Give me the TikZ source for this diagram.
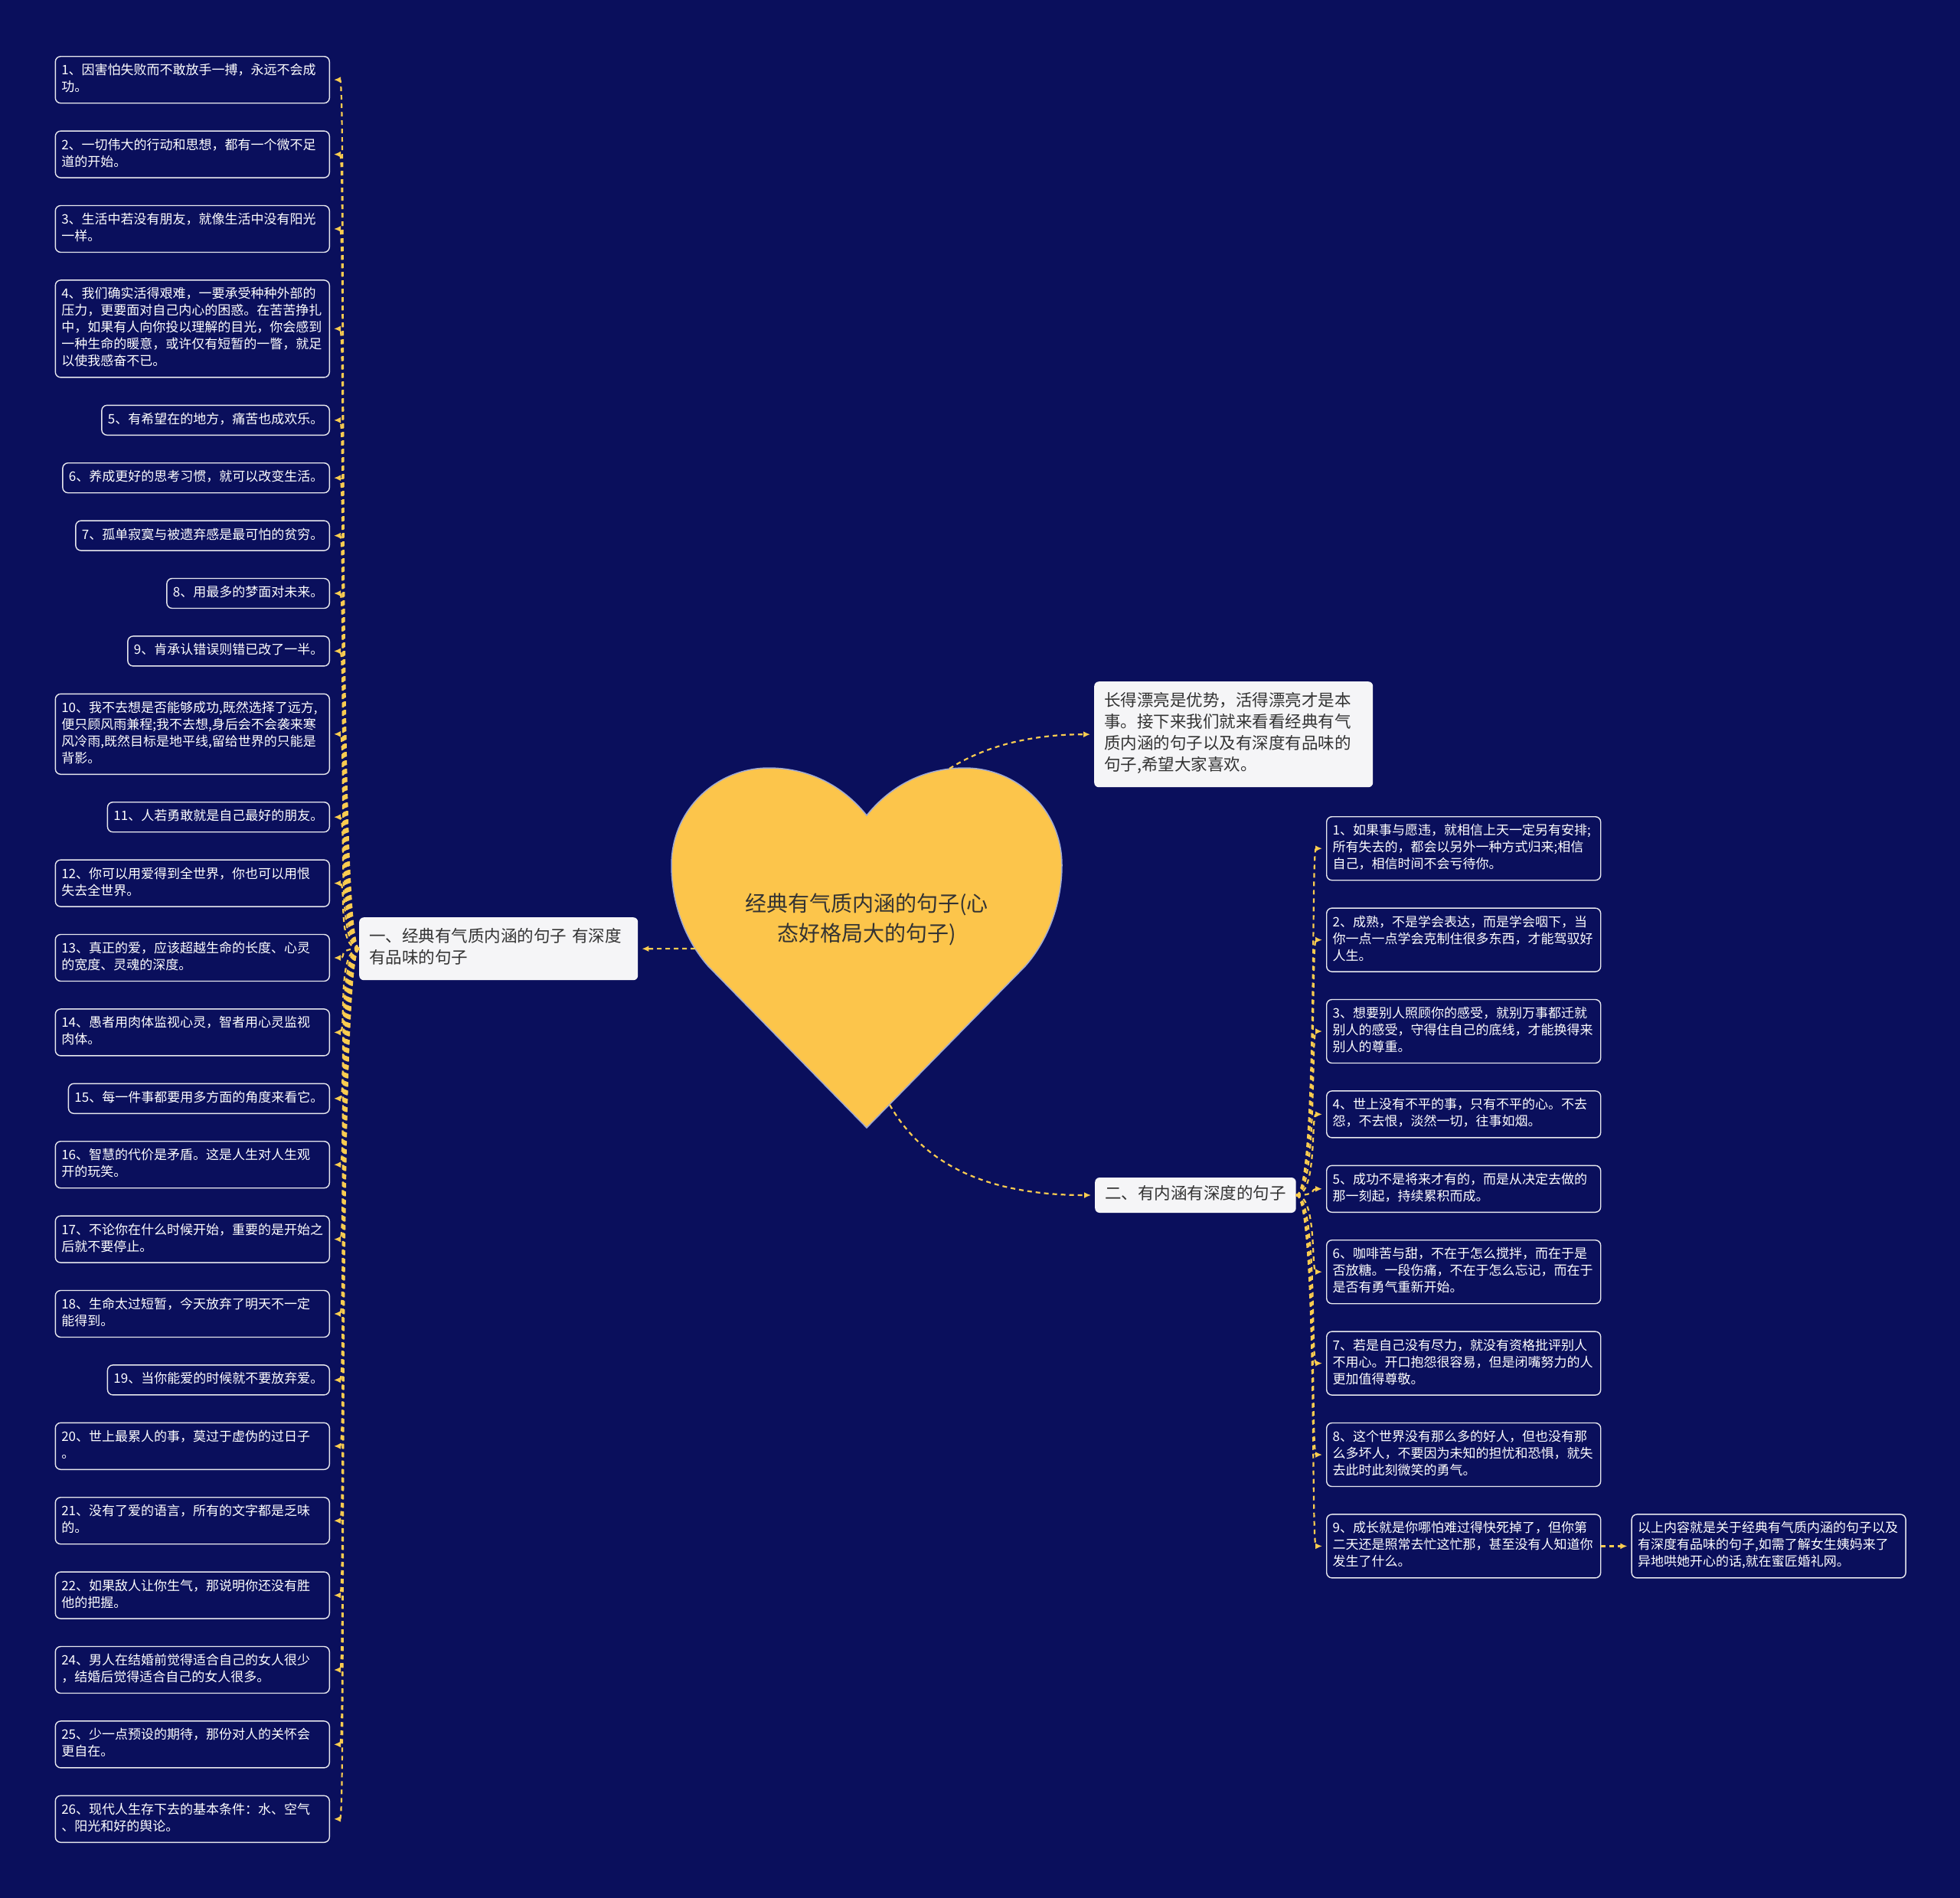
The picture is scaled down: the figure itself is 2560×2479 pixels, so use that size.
\documentclass[tikz,border=0pt]{standalone}
\usepackage{fontspec}
\setmainfont{Noto Sans CJK SC}
\usetikzlibrary{positioning,arrows.meta}

\definecolor{navy}{RGB}{10,15,92}
\definecolor{gold}{RGB}{252,197,75}
\definecolor{linkc}{RGB}{250,204,80}
\definecolor{paper}{RGB}{245,245,247}
\definecolor{ink}{RGB}{51,51,51}
\definecolor{rim}{RGB}{232,232,238}
\definecolor{heartrim}{RGB}{160,170,210}

\begin{document}
\begin{tikzpicture}[x=1pt, y=-1pt, node distance=35pt,
    leaf/.style={draw=rim, line width=1.4pt, fill=navy, text=white, rounded corners=7pt,
                 font=\fontsize{17}{22}\selectfont, inner xsep=8pt, inner ysep=8.5pt,
                 execute at begin node=\strut, execute at end node=\strut},
    leafw/.style={leaf, text width=342pt, align=left},
    branch/.style={fill=paper, text=ink, rounded corners=6pt,
                   font=\fontsize{21.5}{28}\selectfont, inner xsep=13pt, inner ysep=13pt,
                   execute at begin node=\strut, execute at end node=\strut},
    title/.style={text=ink, align=center, font=\fontsize{28}{39}\selectfont},
    link/.style={draw=linkc, line width=2.2pt, dash pattern=on 6pt off 5pt,
                 -{Latex[length=9pt,width=8pt]}, shorten >=5pt}]

  \fill[navy] (0,0) rectangle (2560,2479);
  \useasboundingbox (0,0) rectangle (2560,2479);

  % heart
  \draw[fill=gold, draw=heartrim, line width=1.5pt]
    (1132,1065) .. controls (1100,1025) and (1055,1003) .. (1004,1003)
    .. controls (935,1003) and (877,1058) .. (877,1130)
    .. controls (877,1180) and (895,1228) .. (925,1262)
    -- (1132,1473) -- (1339,1262)
    .. controls (1369,1228) and (1387,1180) .. (1387,1130)
    .. controls (1387,1058) and (1329,1003) .. (1260,1003)
    .. controls (1209,1003) and (1164,1025) .. (1132,1065) -- cycle;
  \node[title] (ttl) at (1132,1201) {经典有气质内涵的句子(心\\态好格局大的句子)};
  \coordinate (hl) at (908,1239);
  \coordinate (ht) at (1240,1004);
  \coordinate (hb) at (1162,1443);

  \node[branch, text width=338pt, align=left, anchor=north west] (intro) at (1429,890)
    {长得漂亮是优势，活得漂亮才是本\\事。接下来我们就来看看经典有气\\质内涵的句子以及有深度有品味的\\句子,希望大家喜欢。};
  \node[branch, text width=338pt, align=left, anchor=north west] (b1) at (469,1198)
    {一、经典有气质内涵的句子 有深度\\有品味的句子};
  \node[branch, inner ysep=9pt, anchor=west] (b2) at (1430,1561) {二、有内涵有深度的句子};

  % left column
  \node[leafw, anchor=north east] (lf1) at (431,73) {1、因害怕失败而不敢放手一搏，永远不会成\\功。};
  \node[leafw, below=of lf1.south east, anchor=north east] (lf2) {2、一切伟大的行动和思想，都有一个微不足\\道的开始。};
  \node[leafw, below=of lf2.south east, anchor=north east] (lf3) {3、生活中若没有朋友，就像生活中没有阳光\\一样。};
  \node[leafw, below=of lf3.south east, anchor=north east] (lf4) {4、我们确实活得艰难，一要承受种种外部的\\压力，更要面对自己内心的困惑。在苦苦挣扎\\中，如果有人向你投以理解的目光，你会感到\\一种生命的暖意，或许仅有短暂的一瞥，就足\\以使我感奋不已。};
  \node[leaf, below=of lf4.south east, anchor=north east] (lf5) {5、有希望在的地方，痛苦也成欢乐。};
  \node[leaf, below=of lf5.south east, anchor=north east] (lf6) {6、养成更好的思考习惯，就可以改变生活。};
  \node[leaf, below=of lf6.south east, anchor=north east] (lf7) {7、孤单寂寞与被遗弃感是最可怕的贫穷。};
  \node[leaf, below=of lf7.south east, anchor=north east] (lf8) {8、用最多的梦面对未来。};
  \node[leaf, below=of lf8.south east, anchor=north east] (lf9) {9、肯承认错误则错已改了一半。};
  \node[leafw, below=of lf9.south east, anchor=north east] (lf10) {10、我不去想是否能够成功,既然选择了远方,\\便只顾风雨兼程;我不去想,身后会不会袭来寒\\风冷雨,既然目标是地平线,留给世界的只能是\\背影。};
  \node[leaf, below=of lf10.south east, anchor=north east] (lf11) {11、人若勇敢就是自己最好的朋友。};
  \node[leafw, below=of lf11.south east, anchor=north east] (lf12) {12、你可以用爱得到全世界，你也可以用恨\\失去全世界。};
  \node[leafw, below=of lf12.south east, anchor=north east] (lf13) {13、真正的爱，应该超越生命的长度、心灵\\的宽度、灵魂的深度。};
  \node[leafw, below=of lf13.south east, anchor=north east] (lf14) {14、愚者用肉体监视心灵，智者用心灵监视\\肉体。};
  \node[leaf, below=of lf14.south east, anchor=north east] (lf15) {15、每一件事都要用多方面的角度来看它。};
  \node[leafw, below=of lf15.south east, anchor=north east] (lf16) {16、智慧的代价是矛盾。这是人生对人生观\\开的玩笑。};
  \node[leafw, below=of lf16.south east, anchor=north east] (lf17) {17、不论你在什么时候开始，重要的是开始之\\后就不要停止。};
  \node[leafw, below=of lf17.south east, anchor=north east] (lf18) {18、生命太过短暂，今天放弃了明天不一定\\能得到。};
  \node[leaf, below=of lf18.south east, anchor=north east] (lf19) {19、当你能爱的时候就不要放弃爱。};
  \node[leafw, below=of lf19.south east, anchor=north east] (lf20) {20、世上最累人的事，莫过于虚伪的过日子\\。};
  \node[leafw, below=of lf20.south east, anchor=north east] (lf21) {21、没有了爱的语言，所有的文字都是乏味\\的。};
  \node[leafw, below=of lf21.south east, anchor=north east] (lf22) {22、如果敌人让你生气，那说明你还没有胜\\他的把握。};
  \node[leafw, below=of lf22.south east, anchor=north east] (lf24) {24、男人在结婚前觉得适合自己的女人很少\\，结婚后觉得适合自己的女人很多。};
  \node[leafw, below=of lf24.south east, anchor=north east] (lf25) {25、少一点预设的期待，那份对人的关怀会\\更自在。};
  \node[leafw, below=of lf25.south east, anchor=north east] (lf26) {26、现代人生存下去的基本条件：水、空气\\、阳光和好的舆论。};

  % right column
  \node[leafw, anchor=north west] (rt1) at (1732,1066) {1、如果事与愿违，就相信上天一定另有安排;\\所有失去的，都会以另外一种方式归来;相信\\自己，相信时间不会亏待你。};
  \node[leafw, below=of rt1.south west, anchor=north west] (rt2) {2、成熟，不是学会表达，而是学会咽下，当\\你一点一点学会克制住很多东西，才能驾驭好\\人生。};
  \node[leafw, below=of rt2.south west, anchor=north west] (rt3) {3、想要别人照顾你的感受，就别万事都迁就\\别人的感受，守得住自己的底线，才能换得来\\别人的尊重。};
  \node[leafw, below=of rt3.south west, anchor=north west] (rt4) {4、世上没有不平的事，只有不平的心。不去\\怨，不去恨，淡然一切，往事如烟。};
  \node[leafw, below=of rt4.south west, anchor=north west] (rt5) {5、成功不是将来才有的，而是从决定去做的\\那一刻起，持续累积而成。};
  \node[leafw, below=of rt5.south west, anchor=north west] (rt6) {6、咖啡苦与甜，不在于怎么搅拌，而在于是\\否放糖。一段伤痛，不在于怎么忘记，而在于\\是否有勇气重新开始。};
  \node[leafw, below=of rt6.south west, anchor=north west] (rt7) {7、若是自己没有尽力，就没有资格批评别人\\不用心。开口抱怨很容易，但是闭嘴努力的人\\更加值得尊敬。};
  \node[leafw, below=of rt7.south west, anchor=north west] (rt8) {8、这个世界没有那么多的好人，但也没有那\\么多坏人，不要因为未知的担忧和恐惧，就失\\去此时此刻微笑的勇气。};
  \node[leafw, below=of rt8.south west, anchor=north west] (rt9) {9、成长就是你哪怕难过得快死掉了，但你第\\二天还是照常去忙这忙那，甚至没有人知道你\\发生了什么。};
  \node[leafw, right=39pt of rt9] (sum) {以上内容就是关于经典有气质内涵的句子以及\\有深度有品味的句子,如需了解女生姨妈来了\\异地哄她开心的话,就在蜜匠婚礼网。};

  % connectors
  \draw[link] (ht) .. controls (1280,978) and (1340,959) .. (intro.west);
  \draw[link] (hl) -- (b1.east);
  \draw[link] (hb) .. controls (1195,1500) and (1260,1561) .. (b2.west);
  \foreach \i in {1,...,22,24,25,26}
    \draw[link] (b1.west) .. controls +(-30,0) and +(22,0) .. (lf\i.east);
  \foreach \i in {1,...,9}
    \draw[link] (b2.east) .. controls +(28,0) and +(-20,0) .. (rt\i.west);
  \draw[link] (rt9.east) -- (sum.west);

\end{tikzpicture}
\end{document}
